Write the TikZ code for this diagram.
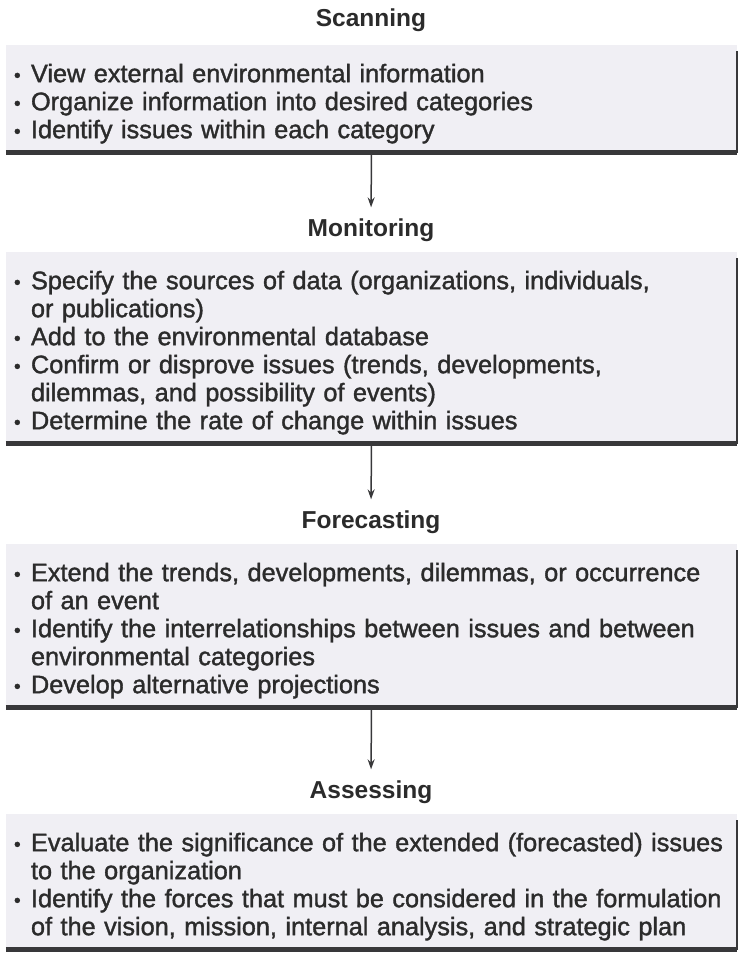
\documentclass[tikz,border=0pt]{standalone}
\usepackage{fontspec}
\setmainfont{Liberation Sans}
\newfontfamily\bodyfont{Liberation Sans}[FakeBold=1.4]
\usetikzlibrary{arrows.meta}

\definecolor{boxfill}{HTML}{F0EFF4}
\definecolor{ink}{HTML}{2B2B2B}
\definecolor{edge}{HTML}{38383A}

% one bullet point with hanging indent (\newline keeps the paragraph)
\newcommand{\itm}[1]{\par\hangindent=17pt\hangafter=1\noindent\makebox[17pt][l]{\raisebox{0.5pt}{\fontsize{19}{19}\selectfont\textbullet}}#1}
% closes the list and leaves some room below it
\newcommand{\lastitm}{\par\vskip10pt}

\begin{document}
\begin{tikzpicture}[x=1pt,y=1pt,
  title/.style={font=\fontsize{24.5}{26}\selectfont\bfseries, text=ink, inner sep=3pt},
  stagebox/.style={anchor=north, fill=boxfill, text=ink, text width=715pt, inner xsep=8pt, inner ysep=9pt,
    align=left, font=\bodyfont\fontsize{25.3}{28}\selectfont},
  flow/.style={-{Stealth[length=10pt,width=7pt]}, edge, line width=1.5pt, shorten <=2pt, shorten >=8pt}]
% page
\fill[white] (0,0) rectangle (742,-964);
\useasboundingbox (0,0) rectangle (742,-964);

% stage titles
\node[title] (scantitle) at (371,-20) {Scanning};
\node[title] (montitle) at (371,-230) {Monitoring};
\node[title] (foretitle) at (371,-522) {Forecasting};
\node[title] (asstitle) at (371,-792) {Assessing};

% stage boxes
\node[stagebox] (scanbox) at (371.5,-45) {%
  \itm{View external environmental information}
  \itm{Organize information into desired categories}
  \itm{Identify issues within each category}\lastitm};
\node[stagebox] (monbox) at (371.5,-252) {%
  \itm{Specify the sources of data (organizations, individuals,\newline or publications)}
  \itm{Add to the environmental database}
  \itm{Confirm or disprove issues (trends, developments,\newline dilemmas, and possibility of events)}
  \itm{Determine the rate of change within issues}\lastitm};
\node[stagebox] (forebox) at (371.5,-544) {%
  \itm{Extend the trends, developments, dilemmas, or occurrence\newline of an event}
  \itm{Identify the interrelationships between issues and between\newline environmental categories}
  \itm{Develop alternative projections}\lastitm};
\node[stagebox] (assbox) at (371.5,-814) {%
  \itm{Evaluate the significance of the extended (forecasted) issues\newline to the organization}
  \itm{Identify the forces that must be considered in the formulation\newline of the vision, mission, internal analysis, and strategic plan}\lastitm};

% heavy edge along bottom and right side
\foreach \b in {scanbox,monbox,forebox,assbox} {
  \draw[edge, line width=4.5pt] (\b.south west) -- (\b.south east);
  \draw[edge, line width=2.5pt] ([yshift=-6pt]\b.north east) -- (\b.south east);
}

% flow between stages
\foreach \a/\b in {scanbox/montitle,monbox/foretitle,forebox/asstitle}
  \draw[flow] (\a.south) -- (\b.north);
\end{tikzpicture}
\end{document}
